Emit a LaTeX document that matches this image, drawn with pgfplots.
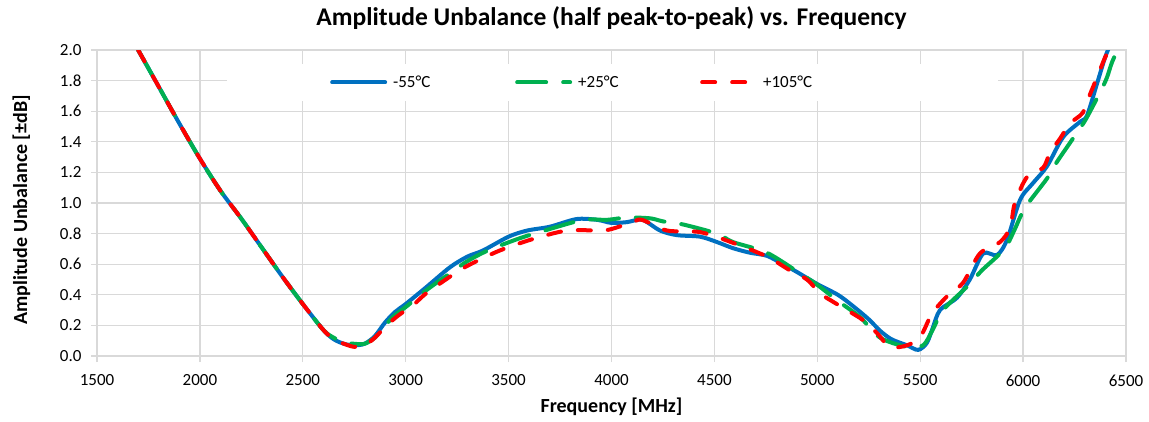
\documentclass[border=0pt]{standalone}
\usepackage{fontspec}
\setmainfont{Carlito}
\usepackage{pgfplots}
\pgfplotsset{compat=1.18}
\definecolor{cblue}{HTML}{0070C0}
\definecolor{cgreen}{HTML}{00B050}
\definecolor{cred}{HTML}{FF0000}
\definecolor{cgrid}{HTML}{D9D9D9}
\begin{document}
\begin{tikzpicture}
\begin{axis}[
  name=ax,
  scale only axis,
  width=1029bp, height=306bp,
  xmin=1500, xmax=6500, ymin=0, ymax=2,
  xtick={1500,2000,...,6500},
  ytick={0,0.2,...,2.01},
  grid=major,
  grid style={line width=1.3bp, cgrid},
  axis line style={line width=1.3bp, cgrid},
  tick style={line width=1.3bp, cgrid},
  tick align=outside,
  xtick pos=bottom, ytick pos=left,
  major tick length=6bp,
  /pgf/number format/assume math mode=true,
  ticklabel style={font=\fontsize{17bp}{20bp}\selectfont, text=black},
  xticklabel style={/pgf/number format/set thousands separator={}, yshift=-9bp},
  yticklabel style={/pgf/number format/.cd, fixed, fixed zerofill, precision=1, /tikz/.cd, xshift=-6bp},
  title={Amplitude Unbalance (half peak-to-peak) vs. Frequency},
  title style={font=\bfseries\fontsize{25.5bp}{30bp}\selectfont, at={(axis description cs:0.5,1)}, anchor=base, yshift=19bp},
  xlabel={Frequency [MHz]},
  xlabel style={font=\bfseries\fontsize{20bp}{24bp}\selectfont, at={(axis description cs:0.5,0)}, anchor=base, yshift=-56bp},
  ylabel={Amplitude Unbalance [±dB]},
  ylabel style={font=\bfseries\fontsize{20bp}{24bp}\selectfont, at={(axis description cs:0,0.477)}, anchor=base, yshift=70bp},
  legend columns=3,
  legend cell align=left,
  legend image code/.code={\draw[#1] (0bp,0bp) -- (53bp,0bp);},
  legend style={at={(axis description cs:0.1263,0.894)}, anchor=west, draw=none, fill=white,
    font=\fontsize{17bp}{20bp}\selectfont, inner xsep=103bp, inner ysep=10bp,
    /tikz/every even column/.append style={column sep=0bp}},
  every axis plot/.append style={line width=4bp, smooth, tension=0.5},
  clip=true,
]
\addplot[cblue, line cap=round] coordinates {
(1700,2.00) (1800,1.76) (1900,1.52) (2000,1.29) (2100,1.08) (2200,0.90) (2300,0.71)
(2400,0.52) (2500,0.34) (2600,0.17) (2650,0.11) (2700,0.08) (2750,0.07) (2800,0.08)
(2850,0.13) (2900,0.22) (2950,0.29) (3000,0.34) (3100,0.45) (3215,0.58) (3300,0.65)
(3376,0.69) (3500,0.78) (3590,0.82) (3700,0.845) (3830,0.895) (3930,0.89) (4000,0.87)
(4075,0.875) (4150,0.89) (4236,0.82) (4318,0.79) (4430,0.78) (4512,0.745) (4590,0.705)
(4673,0.675) (4755,0.655) (4833,0.60) (4900,0.55) (5000,0.47) (5100,0.40) (5170,0.33)
(5250,0.24) (5305,0.165) (5360,0.11) (5436,0.07) (5490,0.04) (5532,0.085) (5560,0.18)
(5596,0.30) (5678,0.38) (5741,0.50) (5806,0.67) (5873,0.66) (5922,0.76) (5985,1.02)
(6048,1.13) (6116,1.24) (6194,1.43) (6276,1.53) (6310,1.57) (6359,1.78) (6398,1.95) (6425,2.04)
};
\addlegendentry{\hspace{4bp}\makebox[120bp][l]{-55°C}}
\addplot[cgreen, line cap=round, dash pattern=on 29bp off 17bp] coordinates {
(1700,2.00) (1800,1.76) (1900,1.52) (2000,1.29) (2100,1.08) (2200,0.90) (2300,0.71)
(2400,0.52) (2500,0.34) (2600,0.17) (2650,0.12) (2700,0.09) (2750,0.08) (2800,0.08)
(2850,0.12) (2900,0.20) (2950,0.27) (3000,0.32) (3100,0.43) (3215,0.54) (3300,0.62)
(3400,0.69) (3555,0.77) (3700,0.83) (3864,0.89) (3978,0.89) (4075,0.905) (4187,0.90)
(4250,0.88) (4347,0.86) (4512,0.80) (4590,0.745) (4755,0.675) (4916,0.54) (5000,0.465)
(5100,0.36) (5207,0.255) (5305,0.12) (5436,0.06) (5514,0.07) (5560,0.17) (5611,0.30)
(5725,0.45) (5800,0.56) (5873,0.65) (5920,0.72) (5960,0.83) (6010,0.97) (6116,1.16)
(6165,1.27) (6262,1.46) (6310,1.56) (6398,1.79) (6432,1.92) (6470,2.03)
};
\addlegendentry{\hspace{4bp}\makebox[120bp][l]{+25°C}}
\addplot[cred, line cap=round, dash pattern=on 13bp off 17bp] coordinates {
(1700,2.00) (1800,1.76) (1900,1.52) (2000,1.29) (2100,1.08) (2200,0.90) (2300,0.71)
(2400,0.52) (2500,0.34) (2600,0.17) (2650,0.11) (2700,0.08) (2750,0.06) (2800,0.07)
(2850,0.12) (2900,0.19) (2950,0.25) (3000,0.30) (3035,0.33) (3100,0.41) (3250,0.55)
(3330,0.61) (3458,0.69) (3619,0.765) (3784,0.82) (3944,0.82) (4000,0.83) (4104,0.875)
(4148,0.89) (4270,0.82) (4430,0.81) (4590,0.74) (4755,0.65) (4867,0.56) (4950,0.50)
(5013,0.41) (5076,0.355) (5144,0.30) (5222,0.235) (5290,0.15) (5353,0.06) (5436,0.07)
(5500,0.125) (5548,0.255) (5582,0.32) (5645,0.41) (5709,0.48) (5790,0.67) (5888,0.745)
(5937,0.84) (5960,1.0) (6019,1.17) (6097,1.23) (6131,1.33) (6179,1.42) (6228,1.52)
(6290,1.59) (6325,1.71) (6359,1.82) (6398,1.95) (6432,2.04)
};
\addlegendentry{\hspace{4bp}\makebox[130bp][l]{+105°C}}
\end{axis}
\pgfresetboundingbox
\path ([shift={(-97bp,-65bp)}]ax.south west) rectangle ([shift={(23bp,50bp)}]ax.north east);
\end{tikzpicture}
\end{document}
